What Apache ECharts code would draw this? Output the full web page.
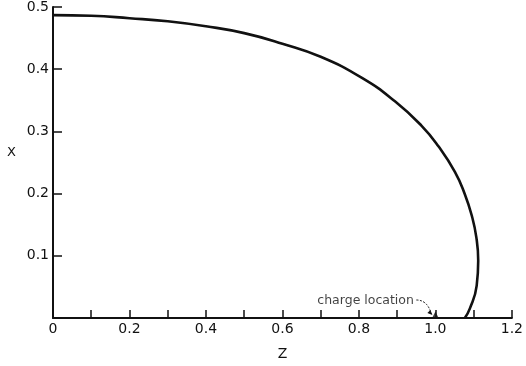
<!DOCTYPE html>
<html>
<head>
<meta charset="utf-8">
<script src="https://cdn.jsdelivr.net/npm/echarts@6/dist/echarts.min.js"></script>
<style>
  html, body { margin: 0; padding: 0; background: #fff; }
  #chart { width: 526px; height: 366px; }
</style>
</head>
<body>
<div id="chart"></div>
<script>
// Boundary profile: axial coordinate Z and radial coordinate X
const zValues = [0, 0.1, 0.2, 0.3, 0.4, 0.5, 0.6, 0.7, 0.808, 0.895, 0.964, 1.008, 1.051, 1.077, 1.095, 1.107, 1.112, 1.108, 1.09, 1.077];
const xValues = [0.487, 0.486, 0.482, 0.477, 0.469, 0.458, 0.441, 0.420, 0.386, 0.348, 0.309, 0.276, 0.235, 0.199, 0.165, 0.130, 0.092, 0.052, 0.015, 0];

// Point charge on the axis
const chargeZ = [1.0];
const chargeX = [0];
const chargeText = 'charge location';

const ink = '#111';
const font = 'DejaVu Sans';

const curve = zValues.map((z, i) => [z, xValues[i]]);
const charge = chargeZ.map((z, i) => [z, chargeX[i]]);

const chart = echarts.init(document.getElementById('chart'), null, { renderer: 'canvas' });

const option = {
  animation: false,
  backgroundColor: '#fff',
  grid: { left: 53, right: 13, top: 7, bottom: 47, containLabel: false },
  xAxis: {
    type: 'value', min: 0, max: 1.2, interval: 0.1,
    name: 'Z', nameLocation: 'middle', nameGap: 29,
    nameTextStyle: { color: ink, fontSize: 14, fontFamily: font },
    axisLine: { lineStyle: { color: ink, width: 2 } },
    axisTick: { inside: true, length: 8, lineStyle: { color: ink, width: 1.5 } },
    axisLabel: {
      margin: 4, color: ink, fontSize: 14, fontFamily: font,
      formatter: v => { const r = Math.round(v * 10); if (r % 2) return ''; return r === 0 ? '0' : (r / 10).toFixed(1); }
    },
    splitLine: { show: false }
  },
  yAxis: {
    type: 'value', min: 0, max: 0.5, interval: 0.1,
    name: 'X', nameLocation: 'middle', nameRotate: 0, nameGap: 37,
    nameTextStyle: { color: ink, fontSize: 13, fontFamily: font, verticalAlign: 'bottom', lineHeight: 16, padding: [0, 0, 2, 0] },
    axisLine: { lineStyle: { color: ink, width: 2 } },
    axisTick: { inside: true, length: 9, lineStyle: { color: ink, width: 1.5 } },
    axisLabel: {
      margin: 4, color: ink, fontSize: 14, fontFamily: font,
      formatter: v => { const r = Math.round(v * 10); return r === 0 ? '' : (r / 10).toFixed(1); }
    },
    splitLine: { show: false }
  },
  series: [
    {
      type: 'line', data: curve, smooth: 0.5, symbol: 'none',
      lineStyle: { color: ink, width: 2.6 }, z: 3
    },
    {
      type: 'scatter', data: charge, symbol: 'triangle', symbolSize: [7, 7],
      symbolOffset: [0, -3],
      itemStyle: { color: ink },
      label: {
        show: true, formatter: chargeText, position: 'left',
        offset: [-13, -14], color: ink, fontSize: 12.5, fontFamily: font
      },
      z: 4
    }
  ]
};

chart.setOption(option);

// Curved pointer from the annotation to the charge mark
const p = chart.convertToPixel({ gridIndex: 0 }, charge[0]);
const start = [p[0] - 19, p[1] - 18];
const end = [p[0] - 4, p[1] - 4];
chart.setOption({
  graphic: [
    {
      type: 'bezierCurve',
      shape: { x1: start[0], y1: start[1], x2: end[0], y2: end[1], cpx1: p[0] - 8, cpy1: p[1] - 18 },
      style: { stroke: ink, lineWidth: 1, lineDash: [2, 1.5], fill: null }
    },
    {
      type: 'polygon',
      shape: { points: [[end[0] + 1, end[1] + 1], [end[0] - 4, end[1] - 1], [end[0] - 1, end[1] - 4]] },
      style: { fill: ink }
    }
  ]
});
</script>
</body>
</html>
